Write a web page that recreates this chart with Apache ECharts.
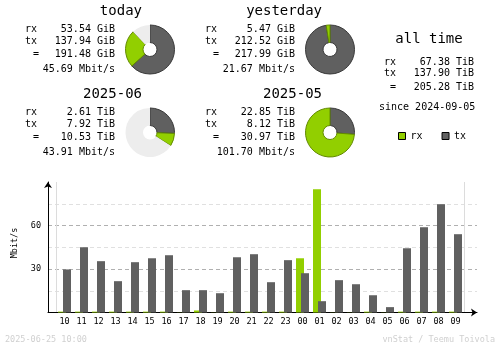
<!DOCTYPE html>
<html>
<head>
<meta charset="utf-8">
<script src="https://cdn.jsdelivr.net/npm/echarts@6/dist/echarts.min.js"></script>
<style>
  html, body { margin: 0; padding: 0; background: #ffffff; }
  #main { width: 500px; height: 348px; }
</style>
</head>
<body>
<div id="main"></div>
<script>
// Hourly average rates (Mbit/s), last 24 hours
const hours = ['10','11','12','13','14','15','16','17','18','19','20','21','22','23',
               '00','01','02','03','04','05','06','07','08','09'];
const rxRate = [0.6, 0.6, 0.6, 0.6, 0.6, 0.6, 0.6, 0.1, 1.4, 0.1, 0.6, 0.6, 0.6, 0.6,
                37.4, 85.0, 0.1, 0.1, 0.6, 0.1, 0.6, 0.6, 0.6, 0.6];
const txRate = [29.7, 45.0, 35.4, 21.6, 34.7, 37.4, 39.5, 15.4, 15.4, 13.3, 38.1, 40.2, 20.9, 36.1,
                27.1, 7.8, 22.3, 19.5, 11.9, 3.7, 44.3, 58.8, 74.7, 54.0];
const yTickLabels = [30, 60];

// Period summaries
const periodNames = ['today', 'yesterday', '2025-06', '2025-05'];
const periodRx    = [53.54, 5.47, 2.61, 22.85];
const periodTx    = [137.94, 212.52, 7.92, 8.12];
const periodTotal = [191.48, 217.99, 10.53, 30.97];
const periodUnit  = ['GiB', 'GiB', 'TiB', 'TiB'];
const periodRate  = [45.69, 21.67, 43.91, 101.70];

// All-time totals (TiB)
const allTimeRx = 67.38;
const allTimeTx = 137.90;
const allTimeTotal = 205.28;
const sinceDate = '2024-09-05';
const generatedAt = '2025-06-25 10:00';
const creditText = 'vnStat / Teemu Toivola';

const RX = '#92cf00', TX = '#606060';
const RX_EDGE = '#628a00', TX_EDGE = '#3a3a3a', PIE_EMPTY = '#ededed';
const MONO = '"DejaVu Sans Mono", "Liberation Mono", monospace';

function txt(text, x, y, size, align, extra) {
  return Object.assign({
    type: 'text', x: x, y: y, silent: true,
    style: { text: text, fill: '#000', font: size + 'px ' + MONO, align: align, verticalAlign: 'middle' }
  }, extra || {});
}

const cols = [
  { label: 25, eq: 33, value: 115, title: 142, pie: 150 },
  { label: 205, eq: 213, value: 295, title: 322, pie: 330 }
];
const rowShift = [0, 83];

const graphic = [];
const pies = [];

periodNames.forEach(function (name, i) {
  const c = cols[i % 2];
  const dy = rowShift[Math.floor(i / 2)];
  const unit = periodUnit[i];
  graphic.push(txt(name, c.title, 11 + dy, 14, 'right'));
  graphic.push(txt('rx', c.label, 29 + dy, 10, 'left'));
  graphic.push(txt(periodRx[i].toFixed(2) + ' ' + unit, c.value, 29 + dy, 10, 'right'));
  graphic.push(txt('tx', c.label, 41 + dy, 10, 'left'));
  graphic.push(txt(periodTx[i].toFixed(2) + ' ' + unit, c.value, 41 + dy, 10, 'right'));
  graphic.push(txt('=', c.eq, 54 + dy, 10, 'left'));
  graphic.push(txt(periodTotal[i].toFixed(2) + ' ' + unit, c.value, 54 + dy, 10, 'right'));
  graphic.push(txt(periodRate[i].toFixed(2) + ' Mbit/s', c.value, 69 + dy, 10, 'right'));

  // each pair (today/yesterday, month/month) shares the larger total as a full circle
  const base = i - (i % 2);
  const pairMax = Math.max(periodTotal[base], periodTotal[base + 1]);
  pies.push({
    type: 'pie',
    center: [c.pie, 49.5 + dy],
    radius: [7, 24.5],
    startAngle: 90,
    clockwise: true,
    silent: true,
    animation: false,
    label: { show: false },
    labelLine: { show: false },
    data: [
      { value: periodTx[i], itemStyle: { color: TX, borderColor: TX_EDGE, borderWidth: 1 } },
      { value: periodRx[i], itemStyle: { color: RX, borderColor: RX_EDGE, borderWidth: 1 } },
      { value: pairMax - periodTotal[i], itemStyle: { color: PIE_EMPTY, borderWidth: 0 } }
    ]
  });
});

// all time block
graphic.push(txt('all time', 429, 39, 14, 'center'));
graphic.push(txt('rx', 384, 62, 10, 'left'));
graphic.push(txt(allTimeRx.toFixed(2) + ' TiB', 474, 62, 10, 'right'));
graphic.push(txt('tx', 384, 73.5, 10, 'left'));
graphic.push(txt(allTimeTx.toFixed(2) + ' TiB', 474, 73.5, 10, 'right'));
graphic.push(txt('=', 390, 87.5, 10, 'left'));
graphic.push(txt(allTimeTotal.toFixed(2) + ' TiB', 474, 87.5, 10, 'right'));
graphic.push(txt('since ' + sinceDate, 379, 107.5, 10, 'left'));

// axis title and footer
graphic.push(txt('Mbit/s', 15, 243, 8.5, 'center', { rotation: Math.PI / 2 }));
graphic.push({
  type: 'text', x: 5, y: 340, silent: true,
  style: { text: generatedAt, fill: '#d0d0d0', font: '8.5px ' + MONO, align: 'left', verticalAlign: 'middle' }
});
graphic.push({
  type: 'text', x: 495, y: 340, silent: true,
  style: { text: creditText, fill: '#d0d0d0', font: '8.5px ' + MONO, align: 'right', verticalAlign: 'middle' }
});

const chart = echarts.init(document.getElementById('main'), null, { renderer: 'canvas' });

chart.setOption({
  backgroundColor: '#ffffff',
  animation: false,
  legend: {
    data: ['rx', 'tx'],
    left: 398, top: 131, padding: 0,
    icon: 'rect',
    itemWidth: 7, itemHeight: 7, itemGap: 19,
    selectedMode: false,
    itemStyle: { borderColor: '#000', borderWidth: 1 },
    textStyle: { fontFamily: MONO, fontSize: 10, color: '#000' }
  },
  grid: [
    { left: 48, right: 23, top: 182, bottom: 35.5 },
    { left: 56, width: 408, top: 182, bottom: 35.5 }
  ],
  xAxis: [
    {
      gridIndex: 0, type: 'category', data: hours,
      axisLine: { show: true, lineStyle: { color: '#000', width: 1 }, symbol: ['none', 'arrow'], symbolSize: [6, 6] },
      axisTick: { show: false }, axisLabel: { show: false }, splitLine: { show: false }
    },
    {
      gridIndex: 1, type: 'category', data: hours,
      axisLine: { show: false }, axisTick: { show: false },
      axisLabel: { color: '#000', fontFamily: MONO, fontSize: 8.5, margin: 5 },
      splitLine: { show: true, interval: function (i, v) { return v === '00'; },
                   lineStyle: { color: '#dcdcdc', width: 1 } }
    }
  ],
  yAxis: [
    {
      gridIndex: 0, type: 'value', min: 0, max: 90, interval: 15,
      axisLine: { show: true, lineStyle: { color: '#000', width: 1 }, symbol: ['none', 'arrow'], symbolSize: [6, 6] },
      axisTick: { show: false },
      axisLabel: {
        formatter: function (v) { return yTickLabels.indexOf(v) >= 0 ? String(v) : ''; },
        fontFamily: MONO, fontSize: 8.5, color: '#000', margin: 7
      },
      splitLine: { show: true, showMaxLine: false,
                   lineStyle: { color: ['#b0b0b0', '#e0e0e0'], type: [4, 3], width: 1 } }
    },
    { gridIndex: 1, type: 'value', min: 0, max: 90, show: false }
  ],
  graphic: graphic,
  series: [
    { name: 'rx', type: 'bar', xAxisIndex: 1, yAxisIndex: 1, data: rxRate,
      barWidth: 8, barGap: '-37.5%', itemStyle: { color: RX }, silent: true },
    { name: 'tx', type: 'bar', xAxisIndex: 1, yAxisIndex: 1, data: txRate,
      barWidth: 8, barGap: '-37.5%', itemStyle: { color: TX }, silent: true }
  ].concat(pies)
});
</script>
</body>
</html>
